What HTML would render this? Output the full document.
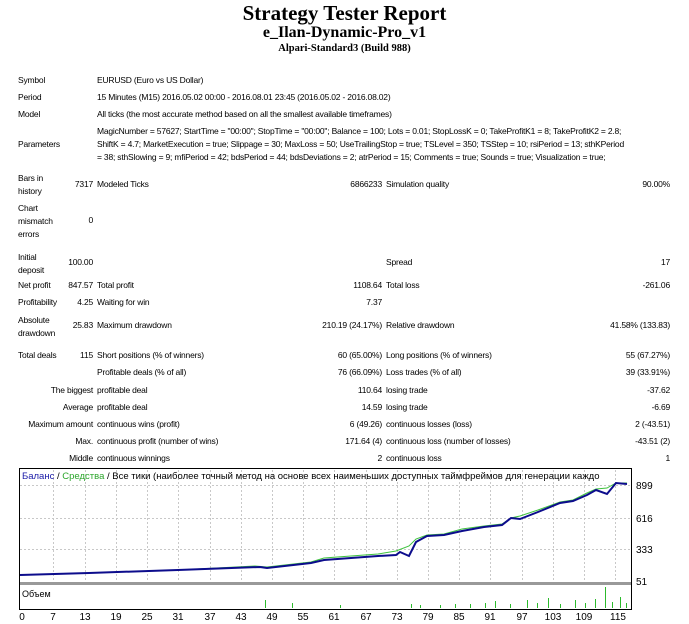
<!DOCTYPE html>
<html><head><meta charset="utf-8"><style>
body{margin:0;width:689px;height:624px;background:#fff;position:relative;overflow:hidden;font-family:"Liberation Sans",sans-serif;color:#000}
.t{position:absolute;font-size:8.5px;white-space:nowrap;line-height:10px;letter-spacing:-0.2px}
.r{text-align:right}
.h{position:absolute;left:0;width:689px;text-align:center;font-family:"Liberation Serif",serif;font-weight:bold}
</style></head><body>
<div class="h" style="top:1px;font-size:21px">Strategy Tester Report</div>
<div class="h" style="top:24px;font-size:16px">e_Ilan-Dynamic-Pro_v1</div>
<div class="h" style="top:43px;font-size:10.5px">Alpari-Standard3 (Build 988)</div>

<div class="t" style="left:18px;top:75px">Symbol</div>
<div class="t" style="left:97px;top:75px">EURUSD (Euro vs US Dollar)</div>
<div class="t" style="left:18px;top:92px">Period</div>
<div class="t" style="left:97px;top:92px">15 Minutes (M15) 2016.05.02 00:00 - 2016.08.01 23:45 (2016.05.02 - 2016.08.02)</div>
<div class="t" style="left:18px;top:109px">Model</div>
<div class="t" style="left:97px;top:109px">All ticks (the most accurate method based on all the smallest available timeframes)</div>
<div class="t" style="left:18px;top:139px">Parameters</div>
<div class="t" style="left:97px;top:126px">MagicNumber = 57627; StartTime = "00:00"; StopTime = "00:00"; Balance = 100; Lots = 0.01; StopLossK = 0; TakeProfitK1 = 8; TakeProfitK2 = 2.8;</div>
<div class="t" style="left:97px;top:139px">ShiftK = 4.7; MarketExecution = true; Slippage = 30; MaxLoss = 50; UseTrailingStop = true; TSLevel = 350; TSStep = 10; rsiPeriod = 13; sthKPeriod</div>
<div class="t" style="left:97px;top:152px">= 38; sthSlowing = 9; mfiPeriod = 42; bdsPeriod = 44; bdsDeviations = 2; atrPeriod = 15; Comments = true; Sounds = true; Visualization = true;</div>

<div class="t" style="left:18px;top:172px;line-height:13px;white-space:normal;width:40px">Bars in history</div>
<div class="t r" style="left:40px;width:53px;top:179px">7317</div>
<div class="t" style="left:97px;top:179px">Modeled Ticks</div>
<div class="t r" style="left:280px;width:102px;top:179px">6866233</div>
<div class="t" style="left:386px;top:179px">Simulation quality</div>
<div class="t r" style="left:560px;width:110px;top:179px">90.00%</div>

<div class="t" style="left:18px;top:202px;line-height:13px;white-space:normal;width:40px">Chart mismatch errors</div>
<div class="t r" style="left:40px;width:53px;top:215px">0</div>

<div class="t" style="left:18px;top:251px;line-height:13px;white-space:normal;width:40px">Initial deposit</div>
<div class="t r" style="left:40px;width:53px;top:257px">100.00</div>
<div class="t" style="left:386px;top:257px">Spread</div>
<div class="t r" style="left:560px;width:110px;top:257px">17</div>

<div class="t" style="left:18px;top:280px">Net profit</div>
<div class="t r" style="left:40px;width:53px;top:280px">847.57</div>
<div class="t" style="left:97px;top:280px">Total profit</div>
<div class="t r" style="left:280px;width:102px;top:280px">1108.64</div>
<div class="t" style="left:386px;top:280px">Total loss</div>
<div class="t r" style="left:560px;width:110px;top:280px">-261.06</div>

<div class="t" style="left:18px;top:297px">Profitability</div>
<div class="t r" style="left:40px;width:53px;top:297px">4.25</div>
<div class="t" style="left:97px;top:297px">Waiting for win</div>
<div class="t r" style="left:280px;width:102px;top:297px">7.37</div>

<div class="t" style="left:18px;top:314px;line-height:13px;white-space:normal;width:40px">Absolute drawdown</div>
<div class="t r" style="left:40px;width:53px;top:320px">25.83</div>
<div class="t" style="left:97px;top:320px">Maximum drawdown</div>
<div class="t r" style="left:280px;width:102px;top:320px">210.19 (24.17%)</div>
<div class="t" style="left:386px;top:320px">Relative drawdown</div>
<div class="t r" style="left:560px;width:110px;top:320px">41.58% (133.83)</div>

<div class="t" style="left:18px;top:350px">Total deals</div>
<div class="t r" style="left:40px;width:53px;top:350px">115</div>
<div class="t" style="left:97px;top:350px">Short positions (% of winners)</div>
<div class="t r" style="left:280px;width:102px;top:350px">60 (65.00%)</div>
<div class="t" style="left:386px;top:350px">Long positions (% of winners)</div>
<div class="t r" style="left:560px;width:110px;top:350px">55 (67.27%)</div>

<div class="t" style="left:97px;top:367px">Profitable deals (% of all)</div>
<div class="t r" style="left:280px;width:102px;top:367px">76 (66.09%)</div>
<div class="t" style="left:386px;top:367px">Loss trades (% of all)</div>
<div class="t r" style="left:560px;width:110px;top:367px">39 (33.91%)</div>

<div class="t r" style="left:0;width:93px;top:385px">The biggest</div>
<div class="t" style="left:97px;top:385px">profitable deal</div>
<div class="t r" style="left:280px;width:102px;top:385px">110.64</div>
<div class="t" style="left:386px;top:385px">losing trade</div>
<div class="t r" style="left:560px;width:110px;top:385px">-37.62</div>

<div class="t r" style="left:0;width:93px;top:402px">Average</div>
<div class="t" style="left:97px;top:402px">profitable deal</div>
<div class="t r" style="left:280px;width:102px;top:402px">14.59</div>
<div class="t" style="left:386px;top:402px">losing trade</div>
<div class="t r" style="left:560px;width:110px;top:402px">-6.69</div>

<div class="t r" style="left:0;width:93px;top:419px">Maximum amount</div>
<div class="t" style="left:97px;top:419px">continuous wins (profit)</div>
<div class="t r" style="left:280px;width:102px;top:419px">6 (49.26)</div>
<div class="t" style="left:386px;top:419px">continuous losses (loss)</div>
<div class="t r" style="left:560px;width:110px;top:419px">2 (-43.51)</div>

<div class="t r" style="left:0;width:93px;top:436px">Max.</div>
<div class="t" style="left:97px;top:436px">continuous profit (number of wins)</div>
<div class="t r" style="left:280px;width:102px;top:436px">171.64 (4)</div>
<div class="t" style="left:386px;top:436px">continuous loss (number of losses)</div>
<div class="t r" style="left:560px;width:110px;top:436px">-43.51 (2)</div>

<div class="t r" style="left:0;width:93px;top:453px">Middle</div>
<div class="t" style="left:97px;top:453px">continuous winnings</div>
<div class="t r" style="left:280px;width:102px;top:453px">2</div>
<div class="t" style="left:386px;top:453px">continuous loss</div>
<div class="t r" style="left:560px;width:110px;top:453px">1</div>

<svg style="position:absolute;left:0;top:0" width="689" height="624" font-family="Liberation Sans, sans-serif">
<g stroke="#c8c8c8" stroke-dasharray="2,2" stroke-width="1">
<line x1="20" y1="485.5" x2="632" y2="485.5"/><line x1="20" y1="518.5" x2="632" y2="518.5"/>
<line x1="20" y1="549.5" x2="632" y2="549.5"/>
<line x1="53.5" y1="470" x2="53.5" y2="582"/><line x1="85.5" y1="470" x2="85.5" y2="582"/><line x1="116.5" y1="470" x2="116.5" y2="582"/><line x1="147.5" y1="470" x2="147.5" y2="582"/><line x1="178.5" y1="470" x2="178.5" y2="582"/><line x1="210.5" y1="470" x2="210.5" y2="582"/><line x1="241.5" y1="470" x2="241.5" y2="582"/><line x1="272.5" y1="470" x2="272.5" y2="582"/><line x1="303.5" y1="470" x2="303.5" y2="582"/><line x1="334.5" y1="470" x2="334.5" y2="582"/><line x1="366.5" y1="470" x2="366.5" y2="582"/><line x1="397.5" y1="470" x2="397.5" y2="582"/><line x1="428.5" y1="470" x2="428.5" y2="582"/><line x1="459.5" y1="470" x2="459.5" y2="582"/><line x1="490.5" y1="470" x2="490.5" y2="582"/><line x1="522.5" y1="470" x2="522.5" y2="582"/><line x1="553.5" y1="470" x2="553.5" y2="582"/><line x1="584.5" y1="470" x2="584.5" y2="582"/><line x1="615.5" y1="470" x2="615.5" y2="582"/>
</g>
<rect x="19.5" y="468.5" width="612" height="141" fill="none" stroke="#000"/>
<rect x="20" y="582" width="611" height="3" fill="#999"/>
<text x="22" y="479" font-size="9.5" fill="#000"><tspan fill="#1a1aa8">Баланс</tspan> / <tspan fill="#2aa52a">Средства</tspan> / Все тики (наиболее точный метод на основе всех наименьших доступных таймфреймов для генерации каждо</text>
<polyline fill="none" stroke="#3ec23e" stroke-width="1" points="20,575 89,573 178,570 255,566 267,567 311,562 324,558 378,554 396,551 409,546 416,539 427,535 444,534 462,529 484,526 502,524 511,518 520,516 538,510 560,502 573,500 587,493 596,489 607,488 616,483 627,483"/>
<polyline fill="none" stroke="#0c0c8c" stroke-width="2" points="20,575 89,573 178,570 260,567 267,568 311,563 324,560 378,556 396,555 400,552 409,556 416,542 427,536 444,535 462,531 484,527 502,525 511,518 520,519 538,512 560,503 573,501 587,495 596,490 607,494 616,483 627,484"/>
<g font-size="10" fill="#000">
<text x="636" y="489">899</text><text x="636" y="522">616</text><text x="636" y="553">333</text><text x="636" y="585">51</text>
<text x="22" y="597" font-size="9">Объем</text>
</g>
<g stroke="#2cba2c" stroke-width="1">
<line x1="265.5" y1="608" x2="265.5" y2="600"/><line x1="292.5" y1="608" x2="292.5" y2="603"/>
<line x1="340.5" y1="608" x2="340.5" y2="605"/><line x1="411.5" y1="608" x2="411.5" y2="604"/><line x1="420.5" y1="608" x2="420.5" y2="605"/><line x1="440.5" y1="608" x2="440.5" y2="605"/><line x1="455.5" y1="608" x2="455.5" y2="604"/><line x1="470.5" y1="608" x2="470.5" y2="604"/><line x1="485.5" y1="608" x2="485.5" y2="603"/><line x1="495.5" y1="608" x2="495.5" y2="601"/><line x1="510.5" y1="608" x2="510.5" y2="604"/><line x1="527.5" y1="608" x2="527.5" y2="600"/><line x1="537.5" y1="608" x2="537.5" y2="603"/><line x1="548.5" y1="608" x2="548.5" y2="598"/><line x1="560.5" y1="608" x2="560.5" y2="604"/><line x1="575.5" y1="608" x2="575.5" y2="600"/><line x1="585.5" y1="608" x2="585.5" y2="603"/><line x1="595.5" y1="608" x2="595.5" y2="599"/><line x1="605.5" y1="608" x2="605.5" y2="587"/><line x1="612.5" y1="608" x2="612.5" y2="602"/><line x1="620.5" y1="608" x2="620.5" y2="597"/><line x1="626.5" y1="608" x2="626.5" y2="603"/>
</g>
<g font-size="10" fill="#000" text-anchor="middle">
<text x="22" y="620">0</text><text x="53" y="620">7</text><text x="85" y="620">13</text><text x="116" y="620">19</text><text x="147" y="620">25</text><text x="178" y="620">31</text><text x="210" y="620">37</text><text x="241" y="620">43</text><text x="272" y="620">49</text><text x="303" y="620">55</text><text x="334" y="620">61</text><text x="366" y="620">67</text><text x="397" y="620">73</text><text x="428" y="620">79</text><text x="459" y="620">85</text><text x="490" y="620">91</text><text x="522" y="620">97</text><text x="553" y="620">103</text><text x="584" y="620">109</text><text x="618" y="620">115</text>
</g>
</svg>
</body></html>
